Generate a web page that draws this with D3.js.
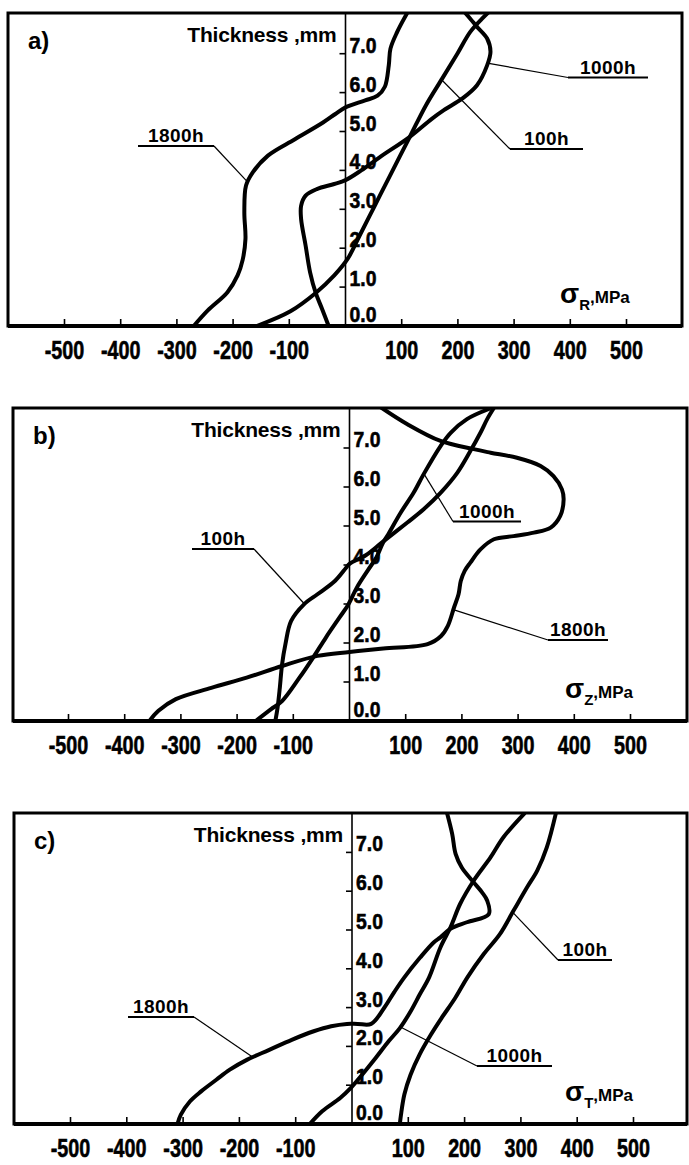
<!DOCTYPE html>
<html>
<head>
<meta charset="utf-8">
<script src="https://cdn.jsdelivr.net/npm/d3@7"></script>
<style>
  body { margin: 0; background: #fff; }
  svg text { fill: #000; font-weight: bold; font-family: "Liberation Sans", Arial, sans-serif; }
  .tick-label { stroke: #000; stroke-width: 0.6; }
</style>
</head>
<body>
<svg id="chart" width="689" height="1165"></svg>
<script>
// tick labels
const stressTicks = [-500, -400, -300, -200, -100, 100, 200, 300, 400, 500];
const thicknessTicks = [0, 1, 2, 3, 4, 5, 6, 7];
const panelLetters = ['a)', 'b)', 'c)'];
const stressSubs = ['R', 'Z', 'T'];
const seriesNames = ['100h', '1000h', '1800h'];

// every series: [thickness mm, stress MPa]
const a100h = [[0, -158], [0.38, -98], [0.85, -53], [1.3, -20], [1.73, 4], [2.32, 25], [3.09, 52], [3.86, 79],
  [4.85, 114], [5.67, 143], [6.36, 172], [7.0, 199], [7.56, 222], [7.9, 243], [8.1, 257]];
const a1000h = [[0, -30], [0.45, -42], [0.85, -53], [1.38, -63], [2.07, -71], [2.75, -79], [3.09, -79], [3.35, -71],
  [3.52, -51], [3.65, -20], [3.75, 0], [4.0, 28], [4.33, 60], [4.87, 115], [5.32, 153], [5.55, 175], [5.85, 208],
  [6.19, 234], [6.7, 252], [7.05, 258], [7.39, 252], [7.69, 234], [7.9, 222], [8.1, 210]];
const a1800h = [[0, -270], [0.4, -245], [0.87, -210], [1.3, -192], [1.7, -183], [2.24, -178], [2.92, -180],
  [3.61, -177], [3.95, -165], [4.38, -138], [4.8, -90], [5.23, -40], [5.45, -18], [5.62, 0], [5.8, 35], [5.92, 57],
  [6.15, 70], [6.7, 77], [7.13, 80], [7.56, 92], [8.05, 110]];

const b100h = [[0, -132], [0.34, -128], [0.85, -124], [1.45, -120], [1.97, -114], [2.56, -104], [2.99, -81],
  [3.25, -57], [3.59, -26], [3.93, -6], [4.03, 0], [4.25, 29], [4.58, 58], [5.09, 103], [5.43, 132], [5.85, 162],
  [6.37, 192], [6.92, 215], [7.39, 233], [7.74, 245], [8.05, 258]];
const b1000h = [[0, -167], [0.3, -140], [0.51, -120], [1.11, -89], [1.62, -65], [2.14, -42], [2.65, -18], [2.99, -2],
  [3.42, 13], [3.85, 32], [4.2, 48], [4.58, 60], [4.74, 67], [5.34, 91], [5.85, 114], [6.33, 132], [7.05, 162],
  [7.39, 180], [7.74, 209], [8.0, 248]];
const b1800h = [[0, -356], [0.26, -340], [0.56, -309], [0.85, -246], [1.11, -183], [1.41, -120], [1.67, -57],
  [1.77, 0], [1.86, 60], [1.97, 139], [2.18, 163], [2.44, 175], [2.91, 186], [3.25, 194], [3.59, 198], [3.85, 205],
  [4.06, 215], [4.4, 233], [4.66, 257], [4.74, 292], [4.83, 328], [4.96, 358], [5.26, 375], [5.68, 381], [5.94, 378],
  [6.28, 363], [6.54, 340], [6.75, 298], [6.88, 251], [6.97, 221], [7.18, 162], [7.61, 103], [8.05, 55]];

const c100h = [[0, 85], [0.24, 87], [0.76, 93], [1.27, 104], [1.79, 120], [2.3, 140], [2.73, 159], [3.24, 183],
  [3.78, 205], [4.38, 234], [4.9, 263], [5.5, 287], [6.1, 311], [6.53, 329], [7.13, 346], [8.0, 362]];
const c1000h = [[0, -75], [0.33, -53], [0.67, -21], [0.93, -2], [1.27, 18], [1.7, 42], [2.13, 65], [2.47, 85],
  [2.9, 104], [3.33, 120], [3.78, 137], [4.55, 157], [5.07, 175], [5.67, 192], [6.27, 216], [6.87, 246],
  [7.39, 269], [8.0, 306]];
const c1800h = [[0, -310], [0.24, -304], [0.58, -288], [0.84, -268], [1.14, -241], [1.4, -217], [1.66, -186],
  [1.91, -147], [2.17, -107], [2.39, -68], [2.52, -37], [2.58, -9], [2.58, 10], [2.58, 34], [2.99, 57], [3.4, 75],
  [3.78, 93], [4.29, 121], [4.68, 145], [4.81, 157], [5.03, 175], [5.2, 204], [5.41, 243], [5.76, 240],
  [5.97, 231], [6.23, 216], [6.61, 195], [6.96, 184], [7.47, 178], [8.0, 169]];

// layout of the three panels (pixels), leaders point at [thickness, stress]
const panels = [
  { left: 8, top: 13, right: 682, bottom: 326, axisX: 345.5, px100: 56.2, pxMm: 38.9,
    series: [a100h, a1000h, a1800h],
    notes: [
      { name: 1, x0: 568, x1: 648, y: 77.5, from: 'l', at: [6.75, 255] },
      { name: 0, x0: 510, x1: 583, y: 149, from: 'l', at: [6.33, 171] },
      { name: 2, x0: 138, x1: 214, y: 146, from: 'r', at: [3.7, -174] }
    ] },
  { left: 13, top: 408, right: 687, bottom: 721, axisX: 349.5, px100: 56.2, pxMm: 39.0,
    series: [b100h, b1000h, b1800h],
    notes: [
      { name: 0, x0: 192, x1: 254, y: 549, from: 'r', at: [3.0, -80] },
      { name: 1, x0: 453, x1: 521, y: 521.5, from: 'l', at: [6.35, 132] },
      { name: 2, x0: 548, x1: 608, y: 640, from: 'l', at: [2.85, 186] }
    ] },
  { left: 14, top: 813, right: 687, bottom: 1124, axisX: 352, px100: 56.3, pxMm: 38.8,
    series: [c100h, c1000h, c1800h],
    notes: [
      { name: 2, x0: 128, x1: 194, y: 1017, from: 'r', at: [1.72, -176] },
      { name: 1, x0: 477, x1: 552, y: 1066, from: 'l', at: [2.5, 86] },
      { name: 0, x0: 558, x1: 612, y: 960, from: 'l', at: [5.45, 286] }
    ] }
];

const svg = d3.select('#chart');

// condensed bold text, like the scanned figure
function narrowText(sel, px, py, sx) {
  return sel.attr('transform', (d, k) => 'translate(' + px(d, k) + ',' + py(d, k) + ') scale(' + sx + ',1)');
}

panels.forEach((p, i) => {
  const x = d3.scaleLinear().domain([-500, 500]).range([p.axisX - 5 * p.px100, p.axisX + 5 * p.px100]);
  const y = d3.scaleLinear().domain([0, 8]).range([p.bottom, p.bottom - 8 * p.pxMm]);
  const g = svg.append('g');

  g.append('clipPath').attr('id', 'clip' + i)
    .append('rect')
    .attr('x', p.left).attr('y', p.top)
    .attr('width', p.right - p.left).attr('height', p.bottom - p.top);

  // axis and ticks
  g.append('line')
    .attr('x1', p.axisX).attr('x2', p.axisX).attr('y1', p.top).attr('y2', p.bottom)
    .attr('stroke', '#000').attr('stroke-width', 1.6);
  g.selectAll('.xt').data(stressTicks).enter().append('line')
    .attr('x1', d => x(d)).attr('x2', d => x(d))
    .attr('y1', p.bottom).attr('y2', p.bottom - 7)
    .attr('stroke', '#000').attr('stroke-width', 1.6);
  g.selectAll('.yt').data(thicknessTicks.filter(d => d > 0)).enter().append('line')
    .attr('x1', p.axisX - 6).attr('x2', p.axisX)
    .attr('y1', d => y(d)).attr('y2', d => y(d))
    .attr('stroke', '#000').attr('stroke-width', 1.6);

  narrowText(g.selectAll('.xl').data(stressTicks).enter().append('text')
    .attr('class', 'tick-label')
    .attr('text-anchor', 'middle')
    .attr('font-size', 26)
    .text(d => d), d => x(d), () => p.bottom + 33, 0.76);
  narrowText(g.selectAll('.yl').data(thicknessTicks).enter().append('text')
    .attr('class', 'tick-label')
    .attr('font-size', 22)
    .text(d => d3.format('.1f')(d)), () => p.axisX + 4, d => Math.min(y(d) - 1, p.bottom - 4), 0.88);

  // titles
  g.append('text')
    .attr('x', p.left + 20).attr('y', p.top + 36)
    .attr('font-size', 24)
    .text(panelLetters[i]);
  g.append('text')
    .attr('x', p.axisX - 9).attr('y', p.top + 29)
    .attr('text-anchor', 'end')
    .attr('font-size', 21)
    .attr('letter-spacing', -0.2)
    .text('Thickness ,mm');
  const sig = g.append('text')
    .attr('x', p.right - 122).attr('y', p.bottom - 23);
  sig.append('tspan').attr('font-size', 28).text('σ');
  sig.append('tspan').attr('font-size', 15).attr('dy', 7).text(stressSubs[i]);
  sig.append('tspan').attr('font-size', 17).attr('dy', -7).text(',MPa');

  // annotations
  p.notes.forEach(n => {
    g.append('text')
      .attr('x', (n.x0 + n.x1) / 2).attr('y', n.y - 4)
      .attr('text-anchor', 'middle')
      .attr('font-size', 19)
      .attr('letter-spacing', 0.4)
      .text(seriesNames[n.name]);
    g.append('line')
      .attr('x1', n.x0).attr('x2', n.x1).attr('y1', n.y).attr('y2', n.y)
      .attr('stroke', '#000').attr('stroke-width', 2);
    g.append('line')
      .attr('x1', n.from === 'l' ? n.x0 : n.x1).attr('y1', n.y)
      .attr('x2', x(n.at[1])).attr('y2', y(n.at[0]))
      .attr('stroke', '#000').attr('stroke-width', 1.2);
  });

  // curves
  const line = d3.line()
    .x(d => x(d[1]))
    .y(d => y(d[0]))
    .curve(d3.curveCatmullRom.alpha(0.5));
  g.append('g').attr('clip-path', 'url(#clip' + i + ')')
    .selectAll('path').data(p.series).enter().append('path')
    .attr('d', line)
    .attr('fill', 'none')
    .attr('stroke', '#000')
    .attr('stroke-width', 4)
    .attr('stroke-linejoin', 'round')
    .attr('stroke-linecap', 'round');

  // frame
  g.append('rect')
    .attr('x', p.left).attr('y', p.top)
    .attr('width', p.right - p.left).attr('height', p.bottom - p.top)
    .attr('fill', 'none').attr('stroke', '#000').attr('stroke-width', 3);
  g.append('line')
    .attr('x1', p.left).attr('x2', p.right).attr('y1', p.bottom).attr('y2', p.bottom)
    .attr('stroke', '#000').attr('stroke-width', 4);
});
</script>
</body>
</html>
